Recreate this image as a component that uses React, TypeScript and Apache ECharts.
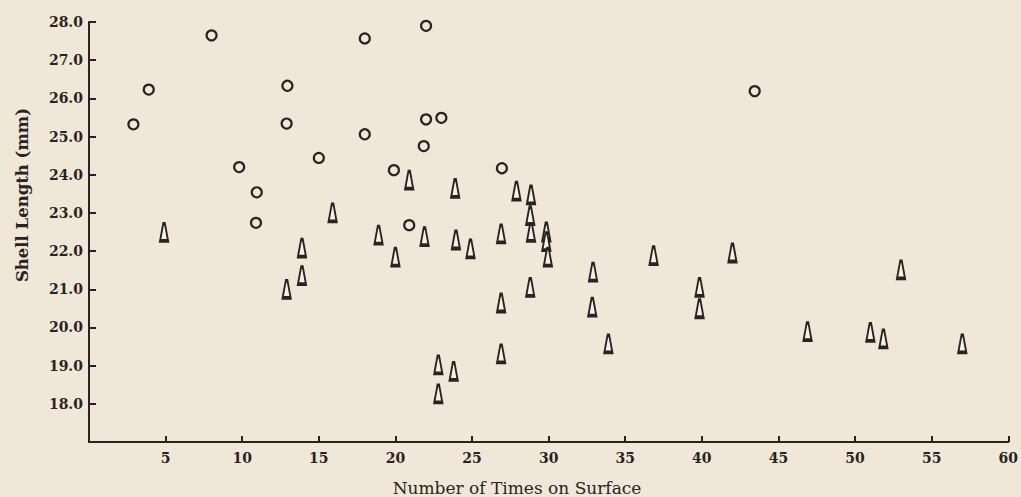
import React, { useEffect, useRef } from "react";
import * as echarts from "echarts";

const circleData: [number, number][] = [
  [2.9, 25.32], [3.9, 26.23], [8.0, 27.65], [9.8, 24.2], [10.95, 23.54],
  [10.9, 22.74], [12.95, 26.33], [12.9, 25.34], [15.0, 24.44], [18.0, 27.57],
  [18.0, 25.06], [19.9, 24.12], [20.9, 22.68], [21.85, 24.75], [22.0, 25.45],
  [22.0, 27.9], [23.0, 25.49], [26.95, 24.17], [43.45, 26.19],
];

const triangleData: [number, number][] = [
  [4.9, 22.49], [12.9, 21.0], [13.9, 22.08], [13.9, 21.36], [15.9, 23.0],
  [18.9, 22.42], [20.0, 21.84], [20.9, 23.86], [21.9, 22.38], [22.8, 19.02],
  [22.8, 18.26], [23.8, 18.85], [23.9, 23.64], [23.95, 22.29], [24.9, 22.06],
  [26.9, 22.45], [26.9, 20.64], [26.9, 19.31], [27.9, 23.57], [28.85, 23.47],
  [28.8, 22.93], [28.85, 22.49], [28.8, 21.05], [29.85, 22.5], [29.85, 22.25],
  [29.95, 21.84], [32.9, 21.45], [32.85, 20.53], [33.9, 19.57], [36.85, 21.88],
  [39.85, 21.05], [39.85, 20.49], [42.0, 21.95], [46.9, 19.89], [51.0, 19.87],
  [51.85, 19.7], [53.0, 21.51], [57.0, 19.57],
];

const xTickValues = [5, 10, 15, 20, 25, 30, 35, 40, 45, 50, 55, 60];
const yTickValues = [18, 19, 20, 21, 22, 23, 24, 25, 26, 27, 28];

const xTitle = "Number of Times on Surface";
const yTitle = "Shell Length (mm)";

const INK = "#2a2321";
const BG = "#efe8d9";
const FONT = "'DejaVu Serif', 'Liberation Serif', serif";

export default function App() {
  const ref = useRef<HTMLDivElement>(null);

  useEffect(() => {
    document.body.style.margin = "0";
    document.body.style.background = BG;
    if (!ref.current) return;
    const chart = echarts.init(ref.current, undefined, { renderer: "svg" });
    chart.setOption({
      animation: false,
      backgroundColor: BG,
      grid: { left: 89, right: 9, top: 22, bottom: 55, containLabel: false },
      xAxis: {
        type: "value",
        min: 0,
        max: 60,
        interval: 5,
        axisLine: { show: true, onZero: false, lineStyle: { color: INK, width: 2 } },
        axisTick: { show: true, inside: true, length: 6, lineStyle: { color: INK, width: 2 } },
        splitLine: { show: false },
        axisLabel: {
          color: INK,
          fontFamily: FONT,
          fontSize: 14,
          fontWeight: "bold",
          margin: 9,
          formatter: (v: number) => (xTickValues.includes(v) ? String(v) : ""),
        },
      },
      yAxis: {
        type: "value",
        min: 17,
        max: 28,
        interval: 1,
        axisLine: { show: true, onZero: false, lineStyle: { color: INK, width: 2 } },
        axisTick: { show: true, inside: true, length: 7, lineStyle: { color: INK, width: 2 } },
        splitLine: { show: false },
        axisLabel: {
          color: INK,
          fontFamily: FONT,
          fontSize: 14,
          fontWeight: "bold",
          margin: 6,
          formatter: (v: number) => (yTickValues.includes(v) ? v.toFixed(1) : ""),
        },
      },
      graphic: [
        {
          type: "text",
          x: 517,
          y: 488,
          style: {
            text: xTitle,
            fill: INK,
            font: `17px ${FONT}`,
            align: "center",
            verticalAlign: "middle",
          },
        },
        {
          type: "text",
          x: 22,
          y: 195,
          rotation: Math.PI / 2,
          style: {
            text: yTitle,
            fill: INK,
            font: `bold 16.5px ${FONT}`,
            align: "center",
            verticalAlign: "middle",
          },
        },
      ],
      series: [
        {
          name: "circles",
          type: "scatter",
          data: circleData,
          symbol: "circle",
          symbolSize: 10,
          itemStyle: { color: BG, borderColor: INK, borderWidth: 2.2, opacity: 1 },
        },
        {
          name: "triangles",
          type: "scatter",
          data: triangleData,
          symbol: "path://M3.5,0 L5.5,0 L9,18 L0,18 Z",
          symbolSize: [8, 17],
          itemStyle: { color: "#f7f2e8", borderColor: INK, borderWidth: 2.6, opacity: 1 },
        },
      ],
    });
    return () => chart.dispose();
  }, []);

  return <div ref={ref} style={{ width: 1021, height: 497 }} />;
}
